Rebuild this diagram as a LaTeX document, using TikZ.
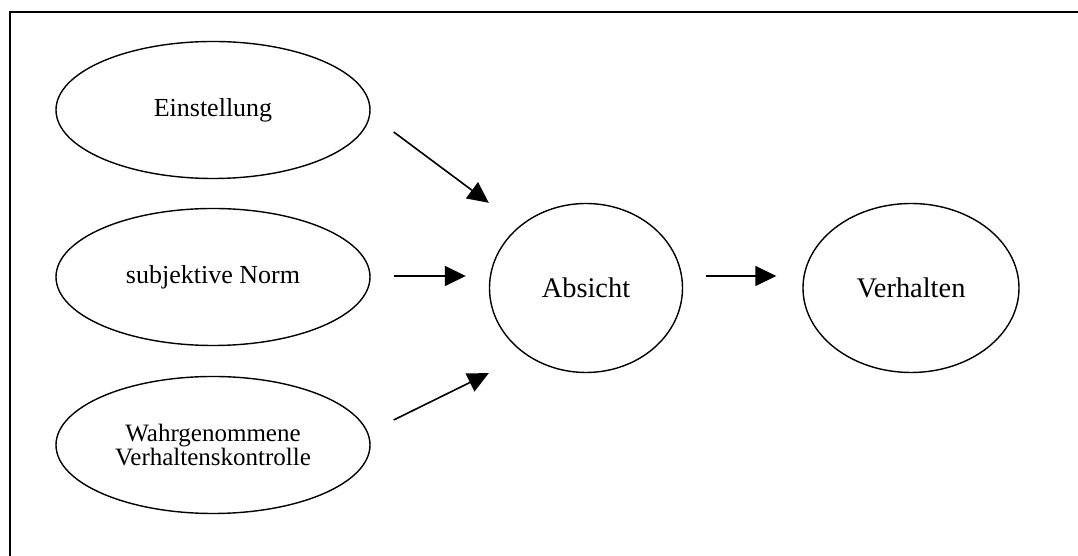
\documentclass[tikz,border=0pt]{standalone}
\usepackage{fontspec}
\setmainfont{Liberation Serif}
\usetikzlibrary{shapes.geometric,arrows.meta}

\begin{document}
\begin{tikzpicture}
  [
    x = 0.5pt, y = 0.5pt,
    frame line/.style = {line width=1pt},
    factor/.style = {ellipse,draw,line width=0.7pt,inner sep=0pt,minimum width=157pt,minimum height=68.5pt,align=center,font=\fontsize{13}{13}\selectfont},
    stage/.style = {ellipse,draw,line width=0.7pt,inner sep=0pt,minimum height=84.5pt,font=\fontsize{14.2}{14.2}\selectfont},
    effect/.style = {->,line width=0.8pt},
    > = {Triangle[length=10.5pt,width=10pt]},
  ]

  \useasboundingbox (0,0) rectangle (1078,556);
  \draw [frame line] (10,0) -- (10,544) -- (1078,544);

  \node [factor] (einst) at (213,446) {Einstellung};
  \node [factor] (norm)  at (213,279) {subjektive Norm};
  \node [factor,font=\fontsize{12.5}{12.3}\selectfont] (wahr) at (213,111) {Wahrgenommene\\Verhaltenskontrolle};
  \node [stage,minimum width=96.5pt] (absicht) at (586,268) {Absicht};
  \node [stage,minimum width=108pt]  (verh)    at (911,268) {Verhalten};

  \coordinate (einst out)   at ([shift={(23,-22)}]einst.east);
  \coordinate (norm out)    at ([shift={(23,1)}]norm.east);
  \coordinate (wahr out)    at ([shift={(23,25)}]wahr.east);
  \coordinate (absicht n)   at (absicht.west |- absicht.north);
  \coordinate (absicht w)   at ([shift={(-23,12)}]absicht.west);
  \coordinate (absicht s)   at (absicht.west |- absicht.south);
  \coordinate (absicht out) at ([shift={(22.5,12)}]absicht.east);
  \coordinate (verh in)     at ([shift={(-26,12)}]verh.west);

  \draw [effect] (einst out)   -- (absicht n);
  \draw [effect] (norm out)    -- (absicht w);
  \draw [effect] (wahr out)    -- (absicht s);
  \draw [effect] (absicht out) -- (verh in);

\end{tikzpicture}
\end{document}
